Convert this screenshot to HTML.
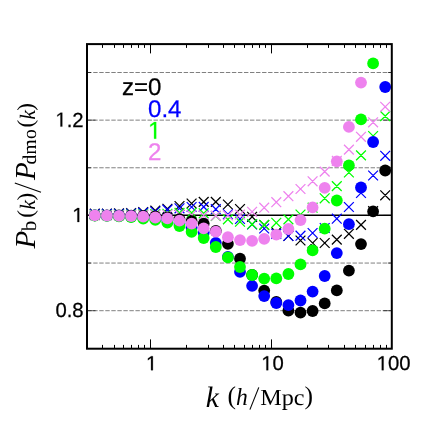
<!DOCTYPE html><html><head><meta charset="utf-8"><style>html,body{margin:0;padding:0;background:#fff}svg{display:block;will-change:transform}text{font-family:"Liberation Sans",sans-serif;text-rendering:geometricPrecision}text.s,.s text{font-family:"Liberation Serif",serif}</style></head><body>
<svg width="436" height="436" viewBox="0 0 436 436">
<rect width="436" height="436" fill="#fff"/>
<line x1="87.2" x2="391.8" y1="72.5" y2="72.5" stroke="#808080" stroke-width="1" stroke-dasharray="4.4 1.63"/>
<line x1="87.2" x2="391.8" y1="120.14" y2="120.14" stroke="#808080" stroke-width="1" stroke-dasharray="4.4 1.63"/>
<line x1="87.2" x2="391.8" y1="167.78" y2="167.78" stroke="#808080" stroke-width="1" stroke-dasharray="4.4 1.63"/>
<line x1="87.2" x2="391.8" y1="263.06" y2="263.06" stroke="#808080" stroke-width="1" stroke-dasharray="4.4 1.63"/>
<line x1="87.2" x2="391.8" y1="310.7" y2="310.7" stroke="#808080" stroke-width="1" stroke-dasharray="4.4 1.63"/>
<line x1="87.0" x2="391.8" y1="215.2" y2="215.2" stroke="#000" stroke-width="1.5"/>
<path d="M87.0 72.5 h4 M391.8 72.5 h-4 M87.0 120.14 h8.5 M391.8 120.14 h-8.5 M87.0 167.78 h4 M391.8 167.78 h-4 M87.0 215.42 h8.5 M391.8 215.42 h-8.5 M87.0 263.06 h4 M391.8 263.06 h-4 M87.0 310.7 h8.5 M391.8 310.7 h-8.5" stroke="#000" stroke-width="0.65" fill="none"/>
<path d="M102.50 44.1 v3.8 M102.50 348.7 v-3.8 M114.50 44.1 v3.8 M114.50 348.7 v-3.8 M123.50 44.1 v3.8 M123.50 348.7 v-3.8 M131.50 44.1 v3.8 M131.50 348.7 v-3.8 M138.50 44.1 v3.8 M138.50 348.7 v-3.8 M144.50 44.1 v3.8 M144.50 348.7 v-3.8 M150.50 44.1 v9.3 M150.50 348.7 v-9.3 M186.50 44.1 v3.8 M186.50 348.7 v-3.8 M208.50 44.1 v3.8 M208.50 348.7 v-3.8 M223.50 44.1 v3.8 M223.50 348.7 v-3.8 M234.50 44.1 v3.8 M234.50 348.7 v-3.8 M244.50 44.1 v3.8 M244.50 348.7 v-3.8 M252.50 44.1 v3.8 M252.50 348.7 v-3.8 M259.50 44.1 v3.8 M259.50 348.7 v-3.8 M265.50 44.1 v3.8 M265.50 348.7 v-3.8 M271.50 44.1 v9.3 M271.50 348.7 v-9.3 M307.50 44.1 v3.8 M307.50 348.7 v-3.8 M328.50 44.1 v3.8 M328.50 348.7 v-3.8 M344.50 44.1 v3.8 M344.50 348.7 v-3.8 M355.50 44.1 v3.8 M355.50 348.7 v-3.8 M365.50 44.1 v3.8 M365.50 348.7 v-3.8 M373.50 44.1 v3.8 M373.50 348.7 v-3.8 M380.50 44.1 v3.8 M380.50 348.7 v-3.8 M386.50 44.1 v3.8 M386.50 348.7 v-3.8" stroke="#000" stroke-width="1" fill="none"/>
<path d="M89.90 208.80L99.70 218.60M89.90 218.60L99.70 208.80M102.00 208.70L111.80 218.50M102.00 218.50L111.80 208.70M114.10 208.50L123.90 218.30M114.10 218.30L123.90 208.50M126.20 208.10L136.00 217.90M126.20 217.90L136.00 208.10M138.30 207.10L148.10 216.90M138.30 216.90L148.10 207.10M150.40 205.70L160.20 215.50M150.40 215.50L160.20 205.70M162.50 203.90L172.30 213.70M162.50 213.70L172.30 203.90M174.60 201.10L184.40 210.90M174.60 210.90L184.40 201.10M186.70 198.60L196.50 208.40M186.70 208.40L196.50 198.60M198.80 197.00L208.60 206.80M198.80 206.80L208.60 197.00M210.90 197.00L220.70 206.80M210.90 206.80L220.70 197.00M223.00 199.60L232.80 209.40M223.00 209.40L232.80 199.60M235.10 204.10L244.90 213.90M235.10 213.90L244.90 204.10M247.20 211.90L257.00 221.70M247.20 221.70L257.00 211.90M259.30 220.10L269.10 229.90M259.30 229.90L269.10 220.10M271.40 227.40L281.20 237.20M271.40 237.20L281.20 227.40M283.50 231.10L293.30 240.90M283.50 240.90L293.30 231.10M295.60 235.60L305.40 245.40M295.60 245.40L305.40 235.60M307.70 238.10L317.50 247.90M307.70 247.90L317.50 238.10M319.80 238.10L329.60 247.90M319.80 247.90L329.60 238.10M331.90 234.70L341.70 244.50M331.90 244.50L341.70 234.70M344.00 228.90L353.80 238.70M344.00 238.70L353.80 228.90M356.10 220.00L365.90 229.80M356.10 229.80L365.90 220.00M368.20 206.10L378.00 215.90M368.20 215.90L378.00 206.10M380.30 190.40L390.10 200.20M380.30 200.20L390.10 190.40" stroke="#000" stroke-width="1.25" fill="none"/>
<path d="M89.90 209.10L99.70 218.90M89.90 218.90L99.70 209.10M102.00 209.00L111.80 218.80M102.00 218.80L111.80 209.00M114.10 208.90L123.90 218.70M114.10 218.70L123.90 208.90M126.20 208.60L136.00 218.40M126.20 218.40L136.00 208.60M138.30 207.70L148.10 217.50M138.30 217.50L148.10 207.70M150.40 206.60L160.20 216.40M150.40 216.40L160.20 206.60M162.50 204.80L172.30 214.60M162.50 214.60L172.30 204.80M174.60 203.40L184.40 213.20M174.60 213.20L184.40 203.40M186.70 202.10L196.50 211.90M186.70 211.90L196.50 202.10M198.80 202.00L208.60 211.80M198.80 211.80L208.60 202.00M210.90 204.30L220.70 214.10M210.90 214.10L220.70 204.30M223.00 209.40L232.80 219.20M223.00 219.20L232.80 209.40M235.10 214.10L244.90 223.90M235.10 223.90L244.90 214.10M247.20 219.60L257.00 229.40M247.20 229.40L257.00 219.60M259.30 223.60L269.10 233.40M259.30 233.40L269.10 223.60M271.40 228.90L281.20 238.70M271.40 238.70L281.20 228.90M283.50 231.10L293.30 240.90M283.50 240.90L293.30 231.10M295.60 230.80L305.40 240.60M295.60 240.60L305.40 230.80M307.70 228.10L317.50 237.90M307.70 237.90L317.50 228.10M319.80 223.10L329.60 232.90M319.80 232.90L329.60 223.10M331.90 213.80L341.70 223.60M331.90 223.60L341.70 213.80M344.00 202.10L353.80 211.90M344.00 211.90L353.80 202.10M356.10 188.10L365.90 197.90M356.10 197.90L365.90 188.10M368.20 170.60L378.00 180.40M368.20 180.40L378.00 170.60M380.30 150.90L390.10 160.70M380.30 160.70L390.10 150.90" stroke="#0000ff" stroke-width="1.25" fill="none"/>
<path d="M89.90 210.10L99.70 219.90M89.90 219.90L99.70 210.10M102.00 210.00L111.80 219.80M102.00 219.80L111.80 210.00M114.10 209.90L123.90 219.70M114.10 219.70L123.90 209.90M126.20 209.70L136.00 219.50M126.20 219.50L136.00 209.70M138.30 209.50L148.10 219.30M138.30 219.30L148.10 209.50M150.40 209.30L160.20 219.10M150.40 219.10L160.20 209.30M162.50 208.90L172.30 218.70M162.50 218.70L172.30 208.90M174.60 208.00L184.40 217.80M174.60 217.80L184.40 208.00M186.70 207.90L196.50 217.70M186.70 217.70L196.50 207.90M198.80 208.40L208.60 218.20M198.80 218.20L208.60 208.40M210.90 211.10L220.70 220.90M210.90 220.90L220.70 211.10M223.00 214.50L232.80 224.30M223.00 224.30L232.80 214.50M235.10 216.80L244.90 226.60M235.10 226.60L244.90 216.80M247.20 219.30L257.00 229.10M247.20 229.10L257.00 219.30M259.30 220.00L269.10 229.80M259.30 229.80L269.10 220.00M271.40 217.90L281.20 227.70M271.40 227.70L281.20 217.90M283.50 214.50L293.30 224.30M283.50 224.30L293.30 214.50M295.60 209.60L305.40 219.40M295.60 219.40L305.40 209.60M307.70 202.80L317.50 212.60M307.70 212.60L317.50 202.80M319.80 193.40L329.60 203.20M319.80 203.20L329.60 193.40M331.90 181.20L341.70 191.00M331.90 191.00L341.70 181.20M344.00 167.60L353.80 177.40M344.00 177.40L353.80 167.60M356.10 150.50L365.90 160.30M356.10 160.30L365.90 150.50M368.20 131.10L378.00 140.90M368.20 140.90L378.00 131.10M380.30 111.20L390.10 121.00M380.30 121.00L390.10 111.20" stroke="#00ff00" stroke-width="1.25" fill="none"/>
<path d="M89.90 210.50L99.70 220.30M89.90 220.30L99.70 210.50M102.00 210.50L111.80 220.30M102.00 220.30L111.80 210.50M114.10 210.50L123.90 220.30M114.10 220.30L123.90 210.50M126.20 210.40L136.00 220.20M126.20 220.20L136.00 210.40M138.30 210.30L148.10 220.10M138.30 220.10L148.10 210.30M150.40 210.10L160.20 219.90M150.40 219.90L160.20 210.10M162.50 209.90L172.30 219.70M162.50 219.70L172.30 209.90M174.60 209.80L184.40 219.60M174.60 219.60L184.40 209.80M186.70 210.10L196.50 219.90M186.70 219.90L196.50 210.10M198.80 210.50L208.60 220.30M198.80 220.30L208.60 210.50M210.90 210.70L220.70 220.50M210.90 220.50L220.70 210.70M223.00 210.50L232.80 220.30M223.00 220.30L232.80 210.50M235.10 209.70L244.90 219.50M235.10 219.50L244.90 209.70M247.20 206.90L257.00 216.70M247.20 216.70L257.00 206.90M259.30 202.80L269.10 212.60M259.30 212.60L269.10 202.80M271.40 197.30L281.20 207.10M271.40 207.10L281.20 197.30M283.50 191.30L293.30 201.10M283.50 201.10L293.30 191.30M295.60 184.10L305.40 193.90M295.60 193.90L305.40 184.10M307.70 176.40L317.50 186.20M307.70 186.20L317.50 176.40M319.80 166.70L329.60 176.50M319.80 176.50L329.60 166.70M331.90 155.90L341.70 165.70M331.90 165.70L341.70 155.90M344.00 144.70L353.80 154.50M344.00 154.50L353.80 144.70M356.10 131.90L365.90 141.70M356.10 141.70L365.90 131.90M368.20 117.40L378.00 127.20M368.20 127.20L378.00 117.40M380.30 101.90L390.10 111.70M380.30 111.70L390.10 101.90" stroke="#ee82ee" stroke-width="1.25" fill="none"/>
<circle cx="94.80" cy="215.30" r="5.9" fill="#000"/>
<circle cx="106.90" cy="215.40" r="5.9" fill="#000"/>
<circle cx="119.00" cy="215.50" r="5.9" fill="#000"/>
<circle cx="131.10" cy="215.70" r="5.9" fill="#000"/>
<circle cx="143.20" cy="216.00" r="5.9" fill="#000"/>
<circle cx="155.30" cy="216.50" r="5.9" fill="#000"/>
<circle cx="167.40" cy="217.50" r="5.9" fill="#000"/>
<circle cx="179.50" cy="219.10" r="5.9" fill="#000"/>
<circle cx="191.60" cy="221.10" r="5.9" fill="#000"/>
<circle cx="203.70" cy="223.60" r="5.9" fill="#000"/>
<circle cx="215.80" cy="231.00" r="5.9" fill="#000"/>
<circle cx="227.90" cy="243.80" r="5.9" fill="#000"/>
<circle cx="240.00" cy="258.70" r="5.9" fill="#000"/>
<circle cx="252.10" cy="275.00" r="5.9" fill="#000"/>
<circle cx="264.20" cy="290.60" r="5.9" fill="#000"/>
<circle cx="276.30" cy="302.00" r="5.9" fill="#000"/>
<circle cx="288.40" cy="310.60" r="5.9" fill="#000"/>
<circle cx="300.50" cy="312.60" r="5.9" fill="#000"/>
<circle cx="312.60" cy="311.00" r="5.9" fill="#000"/>
<circle cx="324.70" cy="303.40" r="5.9" fill="#000"/>
<circle cx="336.80" cy="290.40" r="5.9" fill="#000"/>
<circle cx="348.90" cy="270.60" r="5.9" fill="#000"/>
<circle cx="361.00" cy="244.10" r="5.9" fill="#000"/>
<circle cx="373.10" cy="211.40" r="5.9" fill="#000"/>
<circle cx="385.20" cy="170.50" r="5.9" fill="#000"/>
<circle cx="94.80" cy="215.40" r="5.9" fill="#0000ff"/>
<circle cx="106.90" cy="215.60" r="5.9" fill="#0000ff"/>
<circle cx="119.00" cy="216.00" r="5.9" fill="#0000ff"/>
<circle cx="131.10" cy="216.50" r="5.9" fill="#0000ff"/>
<circle cx="143.20" cy="217.30" r="5.9" fill="#0000ff"/>
<circle cx="155.30" cy="218.50" r="5.9" fill="#0000ff"/>
<circle cx="167.40" cy="220.50" r="5.9" fill="#0000ff"/>
<circle cx="179.50" cy="223.50" r="5.9" fill="#0000ff"/>
<circle cx="191.60" cy="227.70" r="5.9" fill="#0000ff"/>
<circle cx="203.70" cy="232.50" r="5.9" fill="#0000ff"/>
<circle cx="215.80" cy="242.80" r="5.9" fill="#0000ff"/>
<circle cx="227.90" cy="256.80" r="5.9" fill="#0000ff"/>
<circle cx="240.00" cy="271.80" r="5.9" fill="#0000ff"/>
<circle cx="252.10" cy="285.80" r="5.9" fill="#0000ff"/>
<circle cx="264.20" cy="296.10" r="5.9" fill="#0000ff"/>
<circle cx="276.30" cy="303.00" r="5.9" fill="#0000ff"/>
<circle cx="288.40" cy="305.10" r="5.9" fill="#0000ff"/>
<circle cx="300.50" cy="300.50" r="5.9" fill="#0000ff"/>
<circle cx="312.60" cy="291.60" r="5.9" fill="#0000ff"/>
<circle cx="324.70" cy="276.00" r="5.9" fill="#0000ff"/>
<circle cx="336.80" cy="253.10" r="5.9" fill="#0000ff"/>
<circle cx="348.90" cy="224.20" r="5.9" fill="#0000ff"/>
<circle cx="361.00" cy="187.50" r="5.9" fill="#0000ff"/>
<circle cx="373.10" cy="142.00" r="5.9" fill="#0000ff"/>
<circle cx="385.20" cy="87.00" r="5.9" fill="#0000ff"/>
<circle cx="94.80" cy="215.50" r="5.9" fill="#00ff00"/>
<circle cx="106.90" cy="215.80" r="5.9" fill="#00ff00"/>
<circle cx="119.00" cy="216.30" r="5.9" fill="#00ff00"/>
<circle cx="131.10" cy="217.00" r="5.9" fill="#00ff00"/>
<circle cx="143.20" cy="218.50" r="5.9" fill="#00ff00"/>
<circle cx="155.30" cy="219.80" r="5.9" fill="#00ff00"/>
<circle cx="167.40" cy="222.50" r="5.9" fill="#00ff00"/>
<circle cx="179.50" cy="226.00" r="5.9" fill="#00ff00"/>
<circle cx="191.60" cy="231.80" r="5.9" fill="#00ff00"/>
<circle cx="203.70" cy="238.00" r="5.9" fill="#00ff00"/>
<circle cx="215.80" cy="247.00" r="5.9" fill="#00ff00"/>
<circle cx="227.90" cy="257.40" r="5.9" fill="#00ff00"/>
<circle cx="240.00" cy="267.00" r="5.9" fill="#00ff00"/>
<circle cx="252.10" cy="275.00" r="5.9" fill="#00ff00"/>
<circle cx="264.20" cy="278.60" r="5.9" fill="#00ff00"/>
<circle cx="276.30" cy="278.40" r="5.9" fill="#00ff00"/>
<circle cx="288.40" cy="274.00" r="5.9" fill="#00ff00"/>
<circle cx="300.50" cy="264.40" r="5.9" fill="#00ff00"/>
<circle cx="312.60" cy="250.40" r="5.9" fill="#00ff00"/>
<circle cx="324.70" cy="228.70" r="5.9" fill="#00ff00"/>
<circle cx="336.80" cy="200.50" r="5.9" fill="#00ff00"/>
<circle cx="348.90" cy="165.40" r="5.9" fill="#00ff00"/>
<circle cx="361.00" cy="119.40" r="5.9" fill="#00ff00"/>
<circle cx="373.10" cy="63.40" r="5.9" fill="#00ff00"/>
<circle cx="94.80" cy="215.40" r="5.9" fill="#ee82ee"/>
<circle cx="106.90" cy="215.60" r="5.9" fill="#ee82ee"/>
<circle cx="119.00" cy="215.90" r="5.9" fill="#ee82ee"/>
<circle cx="131.10" cy="216.10" r="5.9" fill="#ee82ee"/>
<circle cx="143.20" cy="216.70" r="5.9" fill="#ee82ee"/>
<circle cx="155.30" cy="217.50" r="5.9" fill="#ee82ee"/>
<circle cx="167.40" cy="218.40" r="5.9" fill="#ee82ee"/>
<circle cx="179.50" cy="220.70" r="5.9" fill="#ee82ee"/>
<circle cx="191.60" cy="223.60" r="5.9" fill="#ee82ee"/>
<circle cx="203.70" cy="228.40" r="5.9" fill="#ee82ee"/>
<circle cx="215.80" cy="231.70" r="5.9" fill="#ee82ee"/>
<circle cx="227.90" cy="237.20" r="5.9" fill="#ee82ee"/>
<circle cx="240.00" cy="240.10" r="5.9" fill="#ee82ee"/>
<circle cx="252.10" cy="240.80" r="5.9" fill="#ee82ee"/>
<circle cx="264.20" cy="238.80" r="5.9" fill="#ee82ee"/>
<circle cx="276.30" cy="234.60" r="5.9" fill="#ee82ee"/>
<circle cx="288.40" cy="229.00" r="5.9" fill="#ee82ee"/>
<circle cx="300.50" cy="220.10" r="5.9" fill="#ee82ee"/>
<circle cx="312.60" cy="207.40" r="5.9" fill="#ee82ee"/>
<circle cx="324.70" cy="187.80" r="5.9" fill="#ee82ee"/>
<circle cx="336.80" cy="161.30" r="5.9" fill="#ee82ee"/>
<circle cx="348.90" cy="126.90" r="5.9" fill="#ee82ee"/>
<circle cx="361.00" cy="82.60" r="5.9" fill="#ee82ee"/>
<rect x="87.0" y="44.1" width="304.80" height="304.60" fill="none" stroke="#000" stroke-width="2"/>
<path transform="translate(55.38,126.6) scale(0.00991,-0.00991)" d="M515 0V1237L197 1010V1180L530 1409H696V0Z" fill="#000" stroke="#000" stroke-width="25.2"/>
<text x="66.67" y="126.6" font-size="20.3" fill="#000" stroke="#000" stroke-width="0.25">.2</text>
<path transform="translate(72.31,222) scale(0.00991,-0.00991)" d="M515 0V1237L197 1010V1180L530 1409H696V0Z" fill="#000" stroke="#000" stroke-width="25.2"/>
<text x="55.38" y="317.2" font-size="20.3" fill="#000" stroke="#000" stroke-width="0.25">0.8</text>
<path transform="translate(145.96,370.2) scale(0.00991,-0.00991)" d="M515 0V1237L197 1010V1180L530 1409H696V0Z" fill="#000" stroke="#000" stroke-width="25.2"/>
<path transform="translate(261.31,370.2) scale(0.00991,-0.00991)" d="M515 0V1237L197 1010V1180L530 1409H696V0Z" fill="#000" stroke="#000" stroke-width="25.2"/>
<text x="272.60" y="370.2" font-size="20.3" fill="#000" stroke="#000" stroke-width="0.25">0</text>
<path transform="translate(376.67,370.2) scale(0.00991,-0.00991)" d="M515 0V1237L197 1010V1180L530 1409H696V0Z" fill="#000" stroke="#000" stroke-width="25.2"/>
<text x="387.96" y="370.2" font-size="20.3" fill="#000" stroke="#000" stroke-width="0.25">00</text>
<text x="122.00" y="95.4" font-size="24.1" fill="#000" stroke="#000" stroke-width="0.25">z=0</text>
<text x="148.00" y="117.3" font-size="24.1" fill="#0000ff" stroke="#0000ff" stroke-width="0.25">0.4</text>
<path transform="translate(148.00,138.7) scale(0.01177,-0.01177)" d="M515 0V1237L197 1010V1180L530 1409H696V0Z" fill="#00ff00" stroke="#00ff00" stroke-width="21.2"/>
<text x="148.00" y="160.2" font-size="24.1" fill="#ee82ee" stroke="#ee82ee" stroke-width="0.25">2</text>
<g class="s">
<text x="205.8" y="407.1" font-size="29.5" font-style="italic">k</text>
<text x="227.5" y="404.3" font-size="25.5">(</text>
<text x="236.0" y="404.6" font-size="24.5" font-style="italic" textLength="11.8" lengthAdjust="spacingAndGlyphs">h</text>
<line x1="249.9" y1="409.6" x2="258.8" y2="387.4" stroke="#000" stroke-width="1.1"/>
<text x="260.3" y="404.8" font-size="23" textLength="44.3" lengthAdjust="spacingAndGlyphs">Mpc</text>
<text x="304.6" y="404.3" font-size="25.5">)</text>
</g>
<g transform="translate(34.8,248.5) rotate(-90)" class="s">
<text x="0.0" y="0" font-size="29" font-style="italic">P</text>
<text x="17.2" y="1.6" font-size="21">b</text>
<text x="30.8" y="-2.0" font-size="23">(</text>
<text x="38.7" y="0" font-size="22" font-style="italic">k</text>
<text x="48.0" y="-2.0" font-size="23">)</text>
<line x1="56.3" y1="6.2" x2="65.6" y2="-20" stroke="#000" stroke-width="1.1"/>
<text x="68.5" y="0" font-size="29" font-style="italic">P</text>
<text x="84.0" y="1.2" font-size="19.5" letter-spacing="0.3">dmo</text>
<text x="121.0" y="-2.0" font-size="23">(</text>
<text x="128.7" y="0" font-size="22" font-style="italic">k</text>
<text x="137.8" y="-2.0" font-size="23">)</text>
</g>
</svg></body></html>
